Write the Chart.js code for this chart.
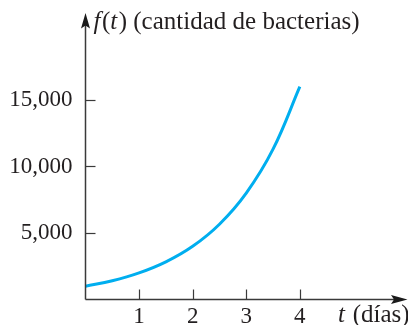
<!DOCTYPE html>
<html>
<head>
<meta charset="utf-8">
<script src="https://cdn.jsdelivr.net/npm/chart.js@4.4.1/dist/chart.umd.min.js"></script>
<style>
  html, body { margin: 0; padding: 0; background: #fff; }
  #wrap { width: 408px; height: 325px; position: relative; }
</style>
</head>
<body>
<div id="wrap"><canvas id="c" width="408" height="325"></canvas></div>
<script>
// Data
const tValues = [0, 0.5, 1, 1.5, 2, 2.5, 3, 3.5, 4];
const bacteria = [1000, 1410, 2000, 2830, 4000, 5660, 8000, 11300, 16000];
const xTickValues = [1, 2, 3, 4];
const yTickValues = [5000, 10000, 15000];
const yTitle = [["f", true], ["(", false], ["t", true], [") (cantidad de bacterias)", false]];
const xTitle = [["t", true], [" (días)", false]];

const FONT = '"Liberation Serif", "Times New Roman", serif';
const INK = '#231f20';
const AXIS = '#3a3a3a';

function drawRich(ctx, parts, x, y, size) {
  ctx.textBaseline = 'alphabetic';
  ctx.textAlign = 'left';
  ctx.fillStyle = INK;
  for (const [txt, it] of parts) {
    ctx.font = (it ? 'italic ' : '') + size + 'px ' + FONT;
    ctx.fillText(txt, x, y);
    x += ctx.measureText(txt).width + (it ? 1.5 : 0);
  }
}

const axesPlugin = {
  id: 'axesPlugin',
  afterDraw(chart) {
    const ctx = chart.ctx;
    const xs = chart.scales.x, ys = chart.scales.y;
    const x0 = xs.getPixelForValue(0);
    const y0 = ys.getPixelForValue(0);
    const a = chart.chartArea;
    ctx.save();
    ctx.strokeStyle = AXIS;
    ctx.fillStyle = AXIS;
    ctx.lineWidth = 1.5;
    // y axis
    ctx.beginPath();
    ctx.moveTo(x0, y0);
    ctx.lineTo(x0, a.top + 10);
    ctx.stroke();
    ctx.fillStyle = '#1a1a1a';
    ctx.beginPath();
    ctx.moveTo(x0, a.top - 0.5);
    ctx.lineTo(x0 - 4.5, a.top + 15);
    ctx.lineTo(x0, a.top + 12);
    ctx.lineTo(x0 + 4.5, a.top + 15);
    ctx.closePath();
    ctx.fill();
    // x axis
    ctx.beginPath();
    ctx.moveTo(x0, y0);
    ctx.lineTo(a.right - 10, y0);
    ctx.stroke();
    ctx.beginPath();
    ctx.moveTo(a.right + 0.5, y0);
    ctx.lineTo(a.right - 16, y0 - 4.5);
    ctx.lineTo(a.right - 13, y0);
    ctx.lineTo(a.right - 16, y0 + 4.5);
    ctx.closePath();
    ctx.fill();
    // inward ticks
    ctx.lineWidth = 1.2;
    for (const v of xTickValues) {
      const px = Math.round(xs.getPixelForValue(v)) + 0.5;
      ctx.beginPath();
      ctx.moveTo(px, y0);
      ctx.lineTo(px, y0 - 10);
      ctx.stroke();
    }
    for (const v of yTickValues) {
      const py = Math.round(ys.getPixelForValue(v)) + 0.5;
      ctx.beginPath();
      ctx.moveTo(x0, py);
      ctx.lineTo(x0 + 10, py);
      ctx.stroke();
    }
    // titles
    drawRich(ctx, yTitle, x0 + 8, 29, 25);
    drawRich(ctx, xTitle, 338, 322, 25);
    ctx.restore();
  }
};

new Chart(document.getElementById('c'), {
  type: 'line',
  data: {
    datasets: [{
      data: tValues.map((t, i) => ({ x: t, y: bacteria[i] })),
      borderColor: '#00aeef',
      borderWidth: 3,
      pointRadius: 0,
      fill: false,
      tension: 0.4
    }]
  },
  options: {
    responsive: false,
    animation: false,
    devicePixelRatio: 1,
    layout: { padding: { top: 13.5, right: 1, left: 0, bottom: 0 } },
    plugins: { legend: { display: false }, tooltip: { enabled: false } },
    scales: {
      x: {
        type: 'linear',
        min: 0,
        max: 6,
        grid: { display: false, drawTicks: false },
        border: { display: false },
        afterBuildTicks: s => { s.ticks = xTickValues.map(v => ({ value: v })); },
        afterFit: s => { s.height = 25.5; s.paddingLeft = 0; s.paddingRight = 0; },
        ticks: {
          padding: 4,
          color: INK,
          font: { family: FONT, size: 23 },
          maxRotation: 0,
          callback: v => String(v)
        }
      },
      y: {
        type: 'linear',
        min: 0,
        max: 21500,
        grid: { display: false, drawTicks: false },
        border: { display: false },
        afterBuildTicks: s => { s.ticks = yTickValues.map(v => ({ value: v })); },
        afterFit: s => { s.width = 85.5; s.paddingTop = 0; s.paddingBottom = 0; },
        ticks: {
          padding: 13,
          color: INK,
          font: { family: FONT, size: 23 },
          callback: v => v.toLocaleString('en-US')
        }
      }
    }
  },
  plugins: [axesPlugin]
});
</script>
</body>
</html>
